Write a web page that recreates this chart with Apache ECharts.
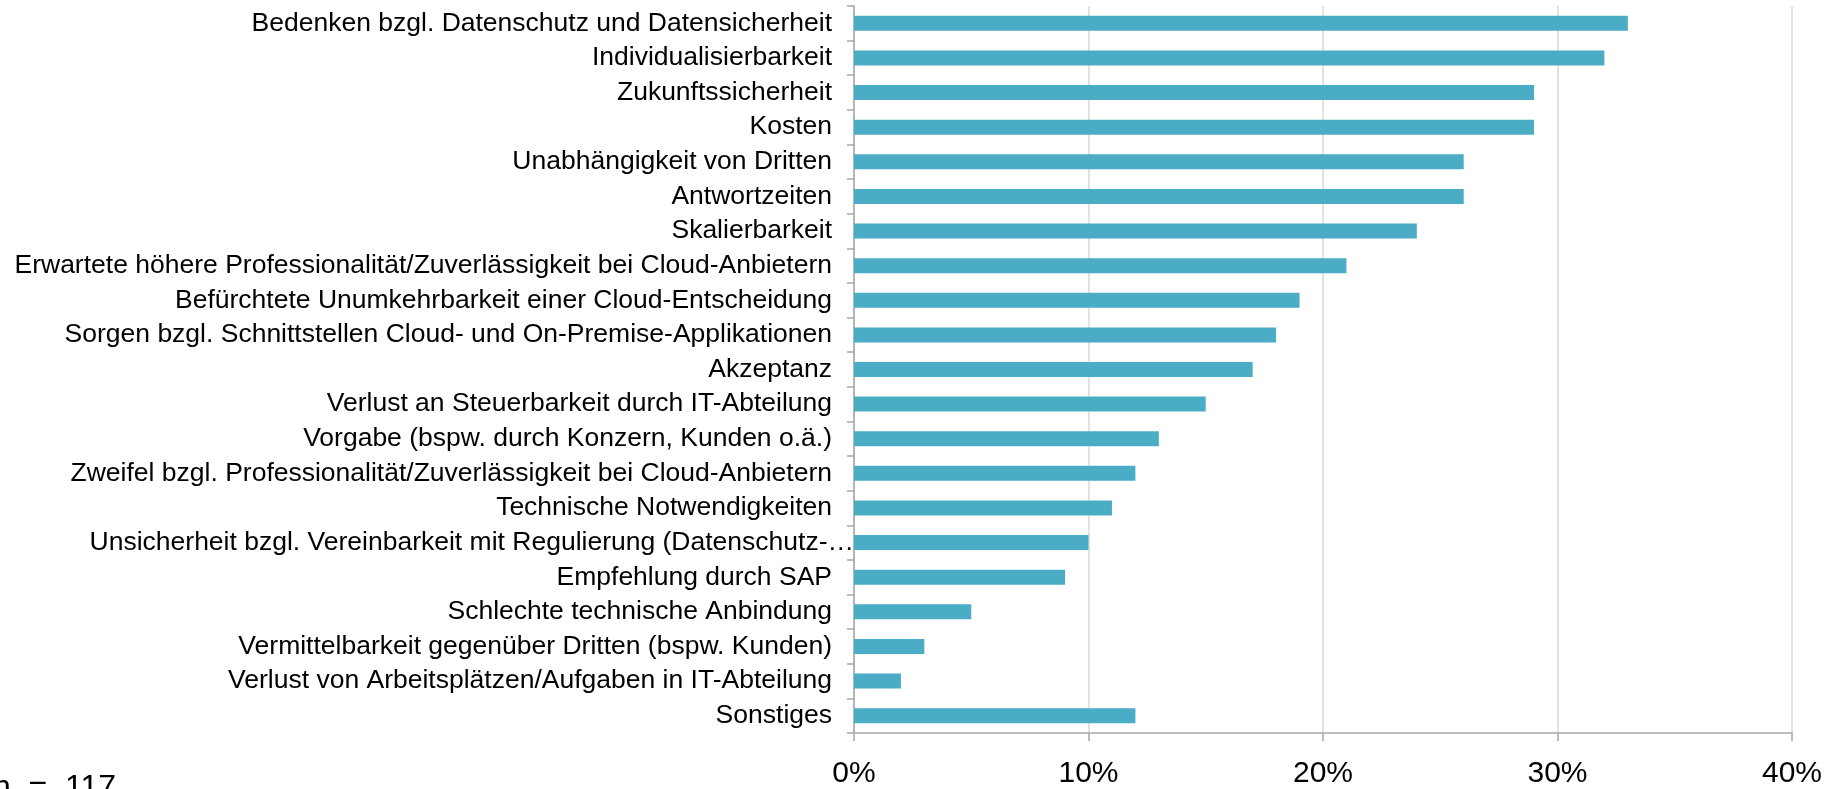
<!DOCTYPE html>
<html>
<head>
<meta charset="utf-8">
<script src="https://cdn.jsdelivr.net/npm/echarts@6/dist/echarts.min.js"></script>
<style>
html,body{margin:0;padding:0;background:#fff;}
#chart{width:1835px;height:789px;}
</style>
</head>
<body>
<div id="chart"></div>
<script>
const categories = [
  "Bedenken bzgl. Datenschutz und Datensicherheit",
  "Individualisierbarkeit",
  "Zukunftssicherheit",
  "Kosten",
  "Unabhängigkeit von Dritten",
  "Antwortzeiten",
  "Skalierbarkeit",
  "Erwartete höhere Professionalität/Zuverlässigkeit bei Cloud-Anbietern",
  "Befürchtete Unumkehrbarkeit einer Cloud-Entscheidung",
  "Sorgen bzgl. Schnittstellen Cloud- und On-Premise-Applikationen",
  "Akzeptanz",
  "Verlust an Steuerbarkeit durch IT-Abteilung",
  "Vorgabe (bspw. durch Konzern, Kunden o.ä.)",
  "Zweifel bzgl. Professionalität/Zuverlässigkeit bei Cloud-Anbietern",
  "Technische Notwendigkeiten",
  "Unsicherheit bzgl. Vereinbarkeit mit Regulierung (Datenschutz-…",
  "Empfehlung durch SAP",
  "Schlechte technische Anbindung",
  "Vermittelbarkeit gegenüber Dritten (bspw. Kunden)",
  "Verlust von Arbeitsplätzen/Aufgaben in IT-Abteilung",
  "Sonstiges"
];
const values = [33, 32, 29, 29, 26, 26, 24, 21, 19, 18, 17, 15, 13, 12, 11, 10, 9, 5, 3, 2, 12];
const xTicks = { min: 0, max: 40, interval: 10 };
const noteText = "n  =  117";
const overflowLabel = "Unsicherheit bzgl. Vereinbarkeit mit Regulierung (Datenschutz-…";

const FONT = '"Liberation Sans", Arial, sans-serif';
const chart = echarts.init(document.getElementById('chart'));
chart.setOption({
  animation: false,
  backgroundColor: '#ffffff',
  grid: { left: 854, right: 43, top: 6, bottom: 54, containLabel: false },
  xAxis: {
    type: 'value',
    min: xTicks.min, max: xTicks.max, interval: xTicks.interval,
    axisLine: { show: true, lineStyle: { color: '#A6A6A6', width: 1.5 } },
    axisTick: { show: true, length: 8, lineStyle: { color: '#A6A6A6', width: 1.5 } },
    splitLine: { show: true, lineStyle: { color: '#D9D9D9', width: 1.5 } },
    axisLabel: { formatter: '{value}%', color: '#000', fontSize: 30, fontFamily: FONT, margin: 26 }
  },
  yAxis: {
    type: 'category',
    inverse: true,
    data: categories,
    axisLine: { show: true, lineStyle: { color: '#A6A6A6', width: 1.5 } },
    axisTick: { show: true, length: 7, lineStyle: { color: '#A6A6A6', width: 1.5 } },
    axisLabel: {
      color: '#000', fontSize: 26.5, fontFamily: FONT, margin: 22, interval: 0,
      formatter: function (v) { return v === overflowLabel ? '{o|' + v + '}' : v; },
      rich: { o: { color: '#000', fontSize: 26.5, fontFamily: FONT, padding: [0, -22, 0, 0] } }
    }
  },
  series: [{
    type: 'bar',
    data: values,
    barWidth: 15,
    itemStyle: { color: '#4BACC6' }
  }],
  graphic: [{
    type: 'text',
    left: -7,
    top: 772,
    style: { text: noteText, fontSize: 32, fontFamily: FONT, fill: '#000' }
  }]
});
</script>
</body>
</html>
